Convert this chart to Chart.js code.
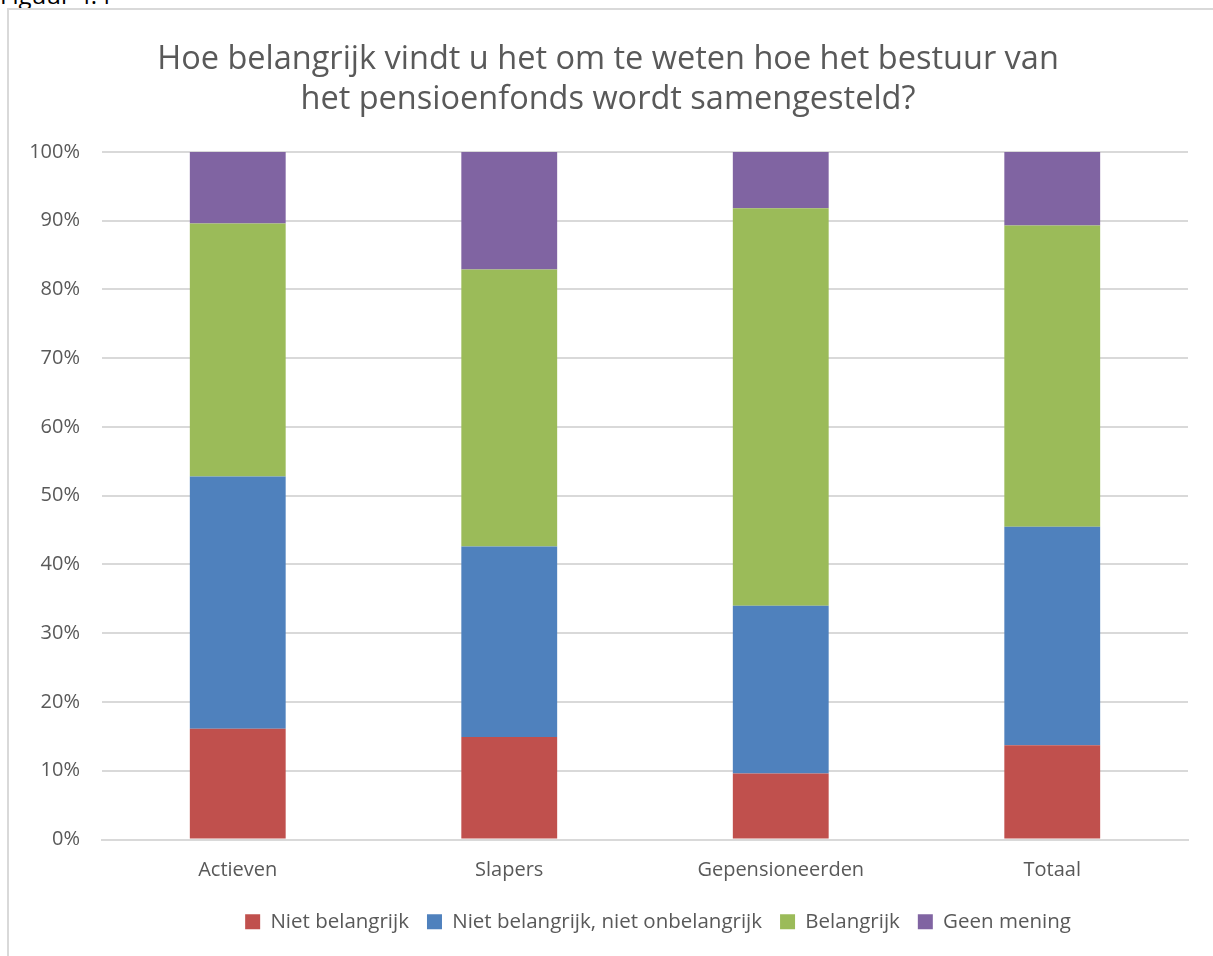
<!DOCTYPE html>
<html>
<head>
<meta charset="utf-8">
<script src="https://cdn.jsdelivr.net/npm/chart.js@4.4.0/dist/chart.umd.min.js"></script>
<style>
  body { margin: 0; background: #fff; width: 1213px; height: 956px; overflow: hidden; position: relative; font-family: "Open Sans", sans-serif; }
  #fig { position: absolute; left: 0; top: -22px; font-size: 24px; color: #000; }
  #box { position: absolute; left: 7px; top: 8px; width: 1206px; height: 948px; border-left: 2px solid #d9d9d9; border-top: 2px solid #d9d9d9; box-sizing: border-box; background: #fff; }
</style>
</head>
<body>
<div id="fig">Figuur 4.4</div>
<div id="box"><canvas id="myChart" width="1204" height="946"></canvas></div>
<script>
const categories = ["Actieven", "Slapers", "Gepensioneerden", "Totaal"];
const nietBelangrijk = [16.1, 14.9, 9.6, 13.7];
const neutraal = [36.7, 27.7, 24.4, 31.8];
const belangrijk = [36.8, 40.3, 57.8, 43.8];
const geenMening = [10.4, 17.1, 8.2, 10.7];
const seriesNames = ["Niet belangrijk", "Niet belangrijk, niet onbelangrijk", "Belangrijk", "Geen mening"];
const colors = ["#C0504D", "#4F81BD", "#9BBB59", "#8064A2"];

const textColor = "#595959";
const fontFam = "'Open Sans', sans-serif";

// the original legend sits a bit right of the middle
const legendShift = {
  id: "legendShift",
  afterLayout(chart) {
    chart.legend.left += 50;
    chart.legend.right += 50;
  },
};

let ctx = document.getElementById("myChart").getContext("2d");
let chart = new Chart(ctx, {
  type: "bar",
  data: {
    labels: categories,
    datasets: [nietBelangrijk, neutraal, belangrijk, geenMening].map((d, i) => ({
      label: seriesNames[i],
      data: d,
      backgroundColor: colors[i],
      borderWidth: 0,
      barPercentage: 0.353,
      categoryPercentage: 1,
    })),
  },
  plugins: [legendShift],
  options: {
    responsive: false,
    animation: false,
    // left padding + y axis width chosen so the title sits near the middle
    layout: { padding: { left: 19, right: 25, top: 0, bottom: 14 } },
    plugins: {
      title: {
        display: true,
        text: ["Hoe belangrijk vindt u het om te weten hoe het bestuur van", "het pensioenfonds wordt samengesteld?"],
        color: textColor,
        font: { family: fontFam, size: 32.5, weight: "normal", lineHeight: 1.23 },
        padding: { top: 30, bottom: 32 },
      },
      legend: {
        position: "bottom",
        labels: {
          color: textColor,
          font: { family: fontFam, size: 20.5 },
          boxWidth: 15,
          boxHeight: 15,
          padding: 18,
        },
      },
      tooltip: { enabled: false },
    },
    scales: {
      x: {
        stacked: true,
        grid: { display: false },
        border: { color: "#d9d9d9", width: 2 },
        ticks: { color: textColor, font: { family: fontFam, size: 20 }, padding: 11 },
      },
      y: {
        stacked: true,
        min: 0,
        max: 100,
        afterFit: (axis) => { axis.width = 74; },
        grid: { color: "#d9d9d9", lineWidth: 2, drawTicks: false },
        border: { display: false },
        ticks: {
          stepSize: 10,
          color: textColor,
          font: { family: fontFam, size: 20 },
          padding: 22,
          callback: (v) => v + "%",
        },
      },
    },
  },
});
</script>
</body>
</html>
